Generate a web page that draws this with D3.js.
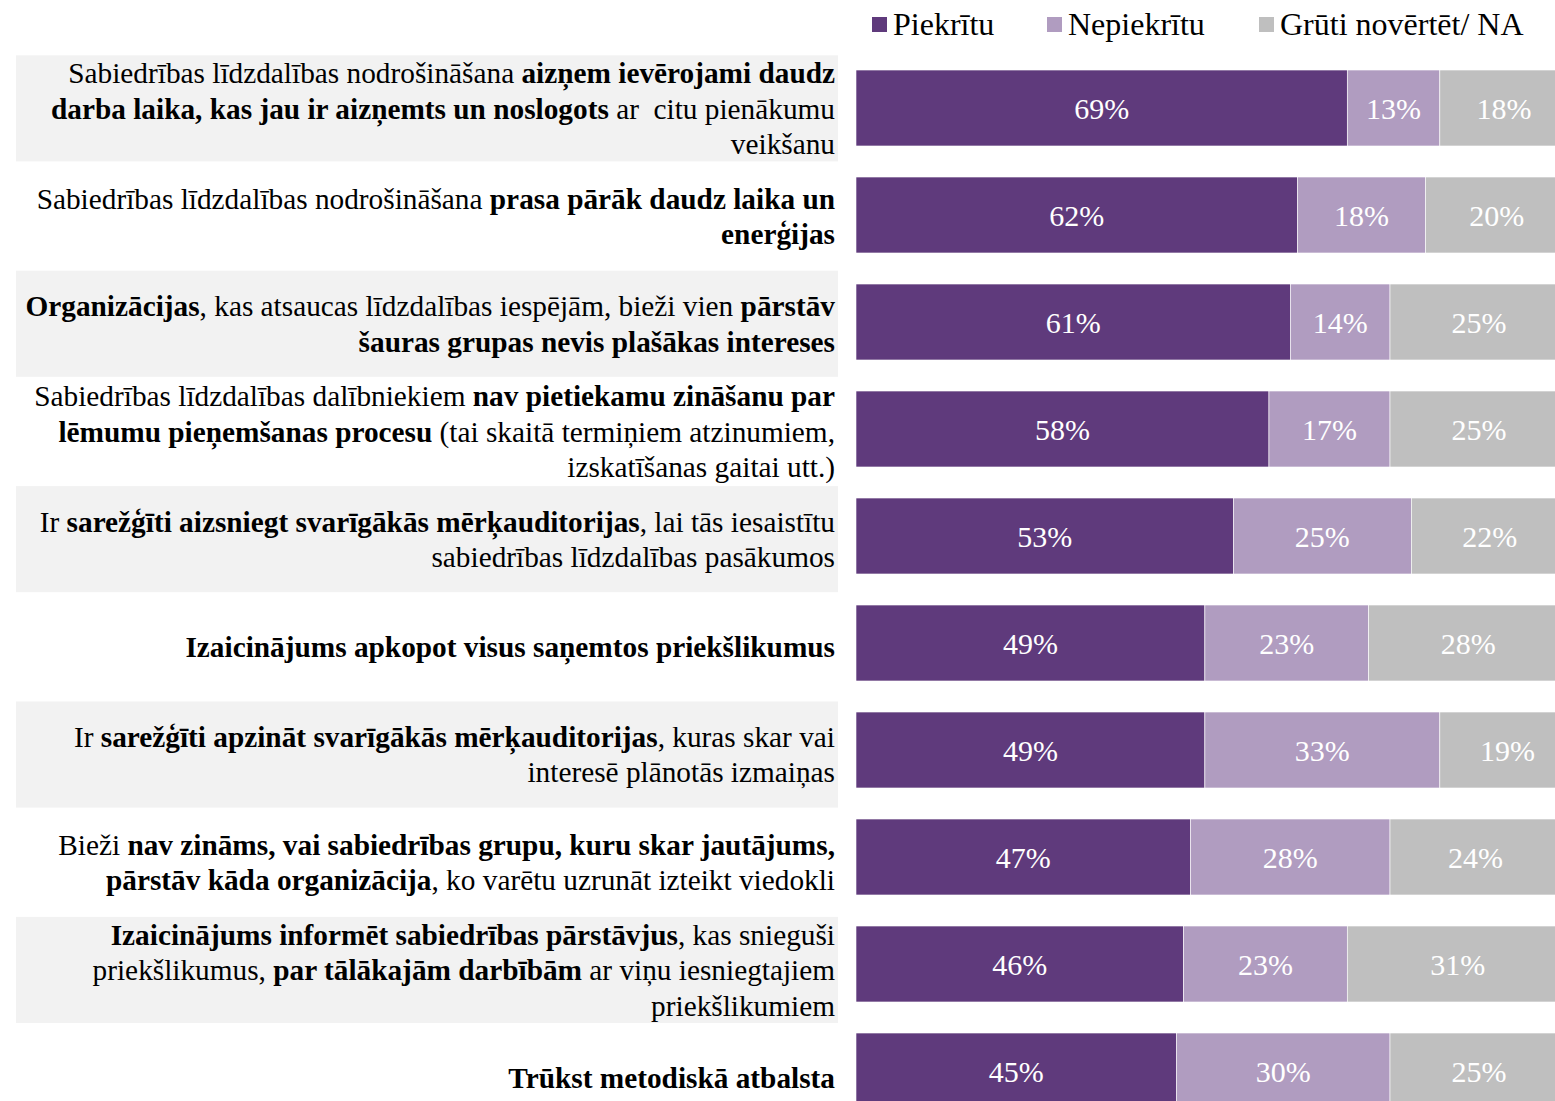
<!DOCTYPE html>
<html>
<head>
<meta charset="utf-8">
<script src="https://cdn.jsdelivr.net/npm/d3@7"></script>
<style>
  html, body { margin: 0; padding: 0; background: #ffffff; }
  svg { display: block; }
  text { font-family: "Liberation Serif", "Times New Roman", serif; white-space: pre; }
</style>
</head>
<body>
<svg id="chart" width="1555" height="1101"></svg>
<script>
// ---- DATA ----
const seriesNames = ["Piekrītu", "Nepiekrītu", "Grūti novērtēt/ NA"];
const seriesColors = ["#5f3a7c", "#b09cc0", "#bfbfbf"];

const categories = [
  "Sabiedrības līdzdalības nodrošināšana aizņem ievērojami daudz darba laika",
  "Sabiedrības līdzdalības nodrošināšana prasa pārāk daudz laika un enerģijas",
  "Organizācijas pārstāv šauras grupas",
  "Dalībniekiem nav pietiekamu zināšanu",
  "Sarežģīti aizsniegt mērķauditorijas",
  "Izaicinājums apkopot priekšlikumus",
  "Sarežģīti apzināt mērķauditorijas",
  "Nav zināms, vai grupu pārstāv organizācija",
  "Izaicinājums informēt sabiedrības pārstāvjus",
  "Trūkst metodiskā atbalsta"
];

const piekritu   = [69, 62, 61, 58, 53, 49, 49, 47, 46, 45];
const nepiekritu = [13, 18, 14, 17, 25, 23, 33, 28, 23, 30];
const gruti      = [18, 20, 25, 25, 22, 28, 19, 24, 31, 25];

// label lines: each line is a list of [text, bold]
const labelLines = [
  [
    [["Sabiedrības līdzdalības nodrošināšana ", false], ["aizņem ievērojami daudz", true]],
    [["darba laika, kas jau ir aizņemts un noslogots", true], [" ar  citu pienākumu", false]],
    [["veikšanu", false]]
  ],
  [
    [["Sabiedrības līdzdalības nodrošināšana ", false], ["prasa pārāk daudz laika un", true]],
    [["enerģijas", true]]
  ],
  [
    [["Organizācijas", true], [", kas atsaucas līdzdalības iespējām, bieži vien ", false], ["pārstāv", true]],
    [["šauras grupas nevis plašākas intereses", true]]
  ],
  [
    [["Sabiedrības līdzdalības dalībniekiem ", false], ["nav pietiekamu zināšanu par", true]],
    [["lēmumu pieņemšanas procesu", true], [" (tai skaitā termiņiem atzinumiem,", false]],
    [["izskatīšanas gaitai utt.)", false]]
  ],
  [
    [["Ir ", false], ["sarežģīti aizsniegt svarīgākās mērķauditorijas", true], [", lai tās iesaistītu", false]],
    [["sabiedrības līdzdalības pasākumos", false]]
  ],
  [
    [["Izaicinājums apkopot visus saņemtos priekšlikumus", true]]
  ],
  [
    [["Ir ", false], ["sarežģīti apzināt svarīgākās mērķauditorijas", true], [", kuras skar vai", false]],
    [["interesē plānotās izmaiņas", false]]
  ],
  [
    [["Bieži ", false], ["nav zināms, vai sabiedrības grupu, kuru skar jautājums,", true]],
    [["pārstāv kāda organizācija", true], [", ko varētu uzrunāt izteikt viedokli", false]]
  ],
  [
    [["Izaicinājums informēt sabiedrības pārstāvjus", true], [", kas snieguši", false]],
    [["priekšlikumus, ", false], ["par tālākajām darbībām", true], [" ar viņu iesniegtajiem", false]],
    [["priekšlikumiem", false]]
  ],
  [
    [["Trūkst metodiskā atbalsta", true]]
  ]
];

// ---- CHART ----
const svg = d3.select("#chart");
const keys = ["p", "n", "g"];
const table = categories.map((c, i) => ({ cat: c, p: piekritu[i], n: nepiekritu[i], g: gruti[i] }));

const x = d3.scaleLinear().domain([0, 100]).range([856, 1568]);
const yBar = d3.scaleBand().domain(categories).range([54.5, 1124.5]).paddingInner(0.29).paddingOuter(0.145);
const yLab = d3.scaleBand().domain(categories).range([54.5, 54.5 + 10 * 107.7]);
const color = d3.scaleOrdinal().domain(keys).range(seriesColors);

// alternating background bands
svg.append("g").selectAll("rect")
  .data(categories.filter((c, i) => i % 2 === 0))
  .join("rect")
  .attr("x", 16).attr("width", 822)
  .attr("y", d => yLab(d) + 0.8)
  .attr("height", yLab.bandwidth() - 1.6)
  .attr("fill", "#f2f2f2");

// stacked bars
const stacked = d3.stack().keys(keys)(table);
const layers = svg.append("g").selectAll("g")
  .data(stacked).join("g")
  .attr("fill", d => color(d.key));

layers.selectAll("rect")
  .data(d => d)
  .join("rect")
  .attr("x", d => x(d[0]))
  .attr("width", d => x(d[1]) - x(d[0]))
  .attr("y", d => yBar(d.data.cat))
  .attr("height", yBar.bandwidth())
  .attr("stroke", "#ffffff")
  .attr("stroke-width", 0.6);

layers.selectAll("text")
  .data(d => d)
  .join("text")
  .attr("x", d => (x(d[0]) + x(d[1])) / 2)
  .attr("y", d => yBar(d.data.cat) + yBar.bandwidth() / 2)
  .attr("dy", "0.35em")
  .attr("text-anchor", "middle")
  .attr("fill", "#ffffff")
  .attr("font-size", 30)
  .text(d => (d[1] - d[0]) + "%");

// category labels
const lineH = 35.3;
const labG = svg.append("g");
categories.forEach((c, i) => {
  const lines = labelLines[i];
  const cy = yLab(c) + yLab.bandwidth() / 2;
  lines.forEach((segs, j) => {
    const t = labG.append("text")
      .attr("x", 835)
      .attr("y", cy + (j - (lines.length - 1) / 2) * lineH)
      .attr("dy", "0.35em")
      .attr("text-anchor", "end")
      .attr("font-size", 29.3)
      .attr("fill", "#000000");
    segs.forEach(s => {
      t.append("tspan").attr("font-weight", s[1] ? "bold" : "normal").text(s[0]);
    });
  });
});

// legend
const legX = [872, 1047, 1259];
const leg = svg.append("g").selectAll("g")
  .data(seriesNames).join("g")
  .attr("transform", (d, i) => `translate(${legX[i]},17)`);
leg.append("rect").attr("width", 15).attr("height", 15).attr("fill", (d, i) => seriesColors[i]);
leg.append("text")
  .attr("x", 21).attr("y", 7).attr("dy", "0.35em")
  .attr("font-size", 32).attr("fill", "#000")
  .text(d => d);
</script>
</body>
</html>
